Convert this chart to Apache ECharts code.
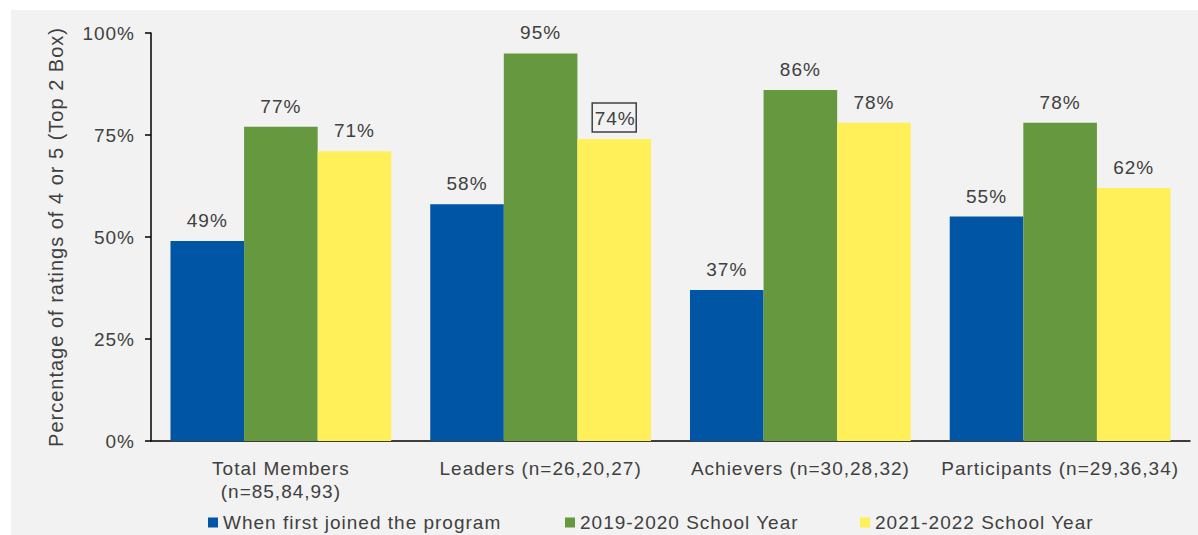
<!DOCTYPE html>
<html>
<head>
<meta charset="utf-8">
<script src="https://cdn.jsdelivr.net/npm/echarts@6/dist/echarts.min.js"></script>
<style>
  html, body { margin: 0; padding: 0; background: #ffffff; }
  #wrap { position: relative; width: 1198px; height: 535px; background: #ffffff; }
  #chart { position: absolute; left: 11px; top: 10px; width: 1187px; height: 525px; background: #f2f2f2; }
  /* slightly open tracking on all chart text */
  #chart text { letter-spacing: 1px; }
</style>
</head>
<body>
<div id="wrap"><div id="chart"></div></div>
<script>
// Groups along the x axis
const categories = [
  'Total Members\n(n=85,84,93)',
  'Leaders (n=26,20,27)',
  'Achievers (n=30,28,32)',
  'Participants (n=29,36,34)'
];
// Share of ratings of 4 or 5, in percent
const firstJoined = [49, 58, 37, 55];
const year2019 = [77, 95, 86, 78];
const year2021 = [71, 74, 78, 62];
const seriesNames = ['When first joined the program', '2019-2020 School Year', '2021-2022 School Year'];
const colors = ['#0055a5', '#66993f', '#fff05a'];
const legendLefts = [192, 549, 844];
const boxedLabel = { series: 2, index: 1 };

const textColor = '#404040';
const font = 'Liberation Sans, Arial, sans-serif';
const fontSize = 19;

function buildData(values, seriesIdx) {
  return values.map((v, i) => {
    if (seriesIdx === boxedLabel.series && i === boxedLabel.index) {
      return {
        value: v,
        label: { borderColor: '#404040', borderWidth: 1.5, padding: [6, 2, 4, 4], distance: 7 }
      };
    }
    return v;
  });
}

const chart = echarts.init(document.getElementById('chart'), null, { renderer: 'svg' });
chart.setOption({
  animation: false,
  textStyle: { fontFamily: font },
  grid: { left: 140, right: 8, top: 23, bottom: 94, containLabel: false },
  legend: seriesNames.map((name, i) => ({
    left: legendLefts[i],
    top: 498,
    icon: 'rect',
    itemWidth: 10,
    itemHeight: 10,
    textStyle: { color: textColor, fontSize: fontSize, fontFamily: font },
    selectedMode: false,
    data: [name]
  })),
  xAxis: {
    type: 'category',
    data: categories,
    axisLine: { lineStyle: { color: '#000000', width: 1.5 } },
    axisTick: { show: false },
    axisLabel: { color: textColor, fontSize: fontSize, fontFamily: font, margin: 16, lineHeight: 23, interval: 0 }
  },
  yAxis: {
    type: 'value',
    min: 0,
    max: 100,
    interval: 25,
    name: 'Percentage of ratings of 4 or 5 (Top 2 Box)',
    nameLocation: 'middle',
    nameGap: 85,
    nameTextStyle: { color: textColor, fontSize: 20, fontFamily: font },
    splitLine: { show: false },
    axisLine: { show: true, lineStyle: { color: '#000000', width: 1.5 } },
    axisTick: { show: true, length: 6, lineStyle: { color: '#000000', width: 1.5 } },
    axisLabel: { color: textColor, fontSize: fontSize, fontFamily: font, margin: 16, formatter: '{value}%' }
  },
  series: [firstJoined, year2019, year2021].map((vals, s) => ({
    name: seriesNames[s],
    type: 'bar',
    data: buildData(vals, s),
    itemStyle: { color: colors[s] },
    barGap: '0%',
    barCategoryGap: '15%',
    label: {
      show: true,
      position: 'top',
      distance: 11,
      color: textColor,
      fontSize: fontSize,
      fontFamily: font,
      formatter: '{c}%'
    }
  }))
});
</script>
</body>
</html>
